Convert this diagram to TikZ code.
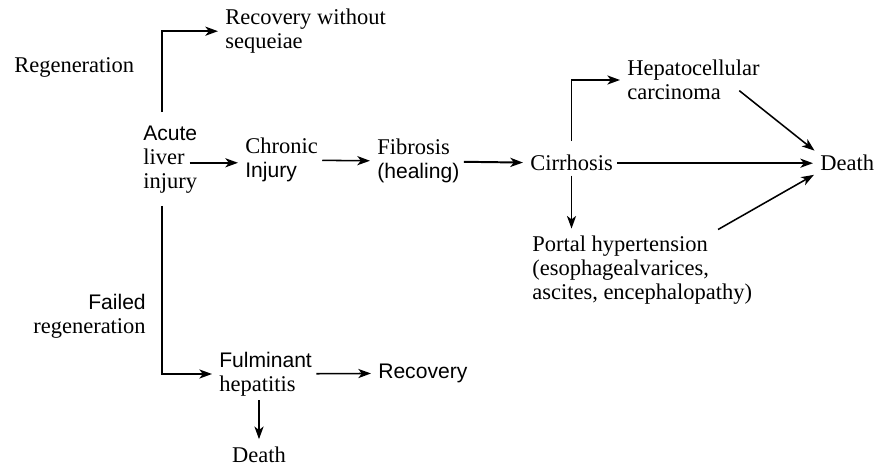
\documentclass[tikz,border=0pt]{standalone}
\usepackage{fontspec}
\setmainfont{Liberation Serif}
\setsansfont{Liberation Sans}
\usepackage{tikz}
\usetikzlibrary{positioning, arrows.meta, calc}
\newcommand{\sfw}[1]{{\sffamily\fontsize{15}{17}\selectfont #1}}

\begin{document}
\begin{tikzpicture}[
  txt/.style={inner sep=0pt, align=left, font=\fontsize{16}{17}\selectfont},
  arr/.style={-{Stealth[length=9pt, width=6.5pt, inset=2.5pt]}, line width=1.1pt, shorten >=5pt, shorten <=3pt},
  elbow/.style={arr, shorten <=0pt}]
\useasboundingbox (0,0) rectangle (21.875,-11.7);
% acute branch
\node[txt, anchor=west] (recov) at (5.625,-0.78) {Recovery without\\sequeiae};
\node[txt, anchor=west] (regen) at (0.35,-1.68) {Regeneration};
\node[txt, anchor=west] (acute) at (3.575,-4.0) {\sfw{Acute}\\liver\\injury};
\node[txt, anchor=east, align=right] (failed) at (3.65,-7.9) {\sfw{Failed}\\regeneration};
\node[txt, anchor=west] (fulm) at (5.475,-9.35) {\sfw{Fulminant}\\hepatitis};
\node[txt, anchor=west] (recov2) at (9.45,-9.33) {\sfw{Recovery}};
\node[txt] (death2) at (6.475,-11.36) {Death};
% chronic branch
\node[txt, anchor=west] (chronic) at (6.125,-4.0) {Chronic\\\sfw{Injury}};
\node[txt, anchor=west] (fibrosis) at (9.425,-4.03) {Fibrosis\\\sfw{(healing)}};
\node[txt, anchor=west] (cirr) at (13.25,-4.08) {Cirrhosis};
\node[txt, anchor=west] (hcc) at (15.675,-2.0) {Hepatocellular\\carcinoma};
\node[txt, anchor=west] (portal) at (13.3,-6.75) {Portal hypertension\\(esophagealvarices,\\ascites, encephalopathy)};
\node[txt, anchor=west] (death) at (20.5,-4.08) {Death};

\draw[elbow] ([xshift=-0.2cm, yshift=0.35cm]acute.north) |- (recov.west);
\draw[elbow] ([xshift=-0.2cm, yshift=-0.3cm]acute.south) |- (fulm.west);
\draw[arr] ([xshift=-0.3cm, yshift=-0.07cm]acute.east) -- ([yshift=-0.07cm]chronic.west);
\draw[arr] (chronic) -- (fibrosis);
\draw[arr, line width=1.4pt] (fibrosis) -- (cirr);
\draw[arr] (cirr) -- (death);
\draw[elbow] ([yshift=0.35cm]cirr.north) |- (hcc.west);
\draw[arr] (cirr.south) -- (cirr.south |- portal.north);
\draw[arr] ([xshift=-0.6cm, yshift=-0.2cm]hcc.east) -- (death.north west);
\draw[arr] ([xshift=-0.95cm, yshift=0.1cm]portal.north east) -- (death.south west);
\draw[arr] (fulm) -- (recov2);
\draw[arr] (death2.north |- fulm.south) -- (death2.north);
\end{tikzpicture}
\end{document}
